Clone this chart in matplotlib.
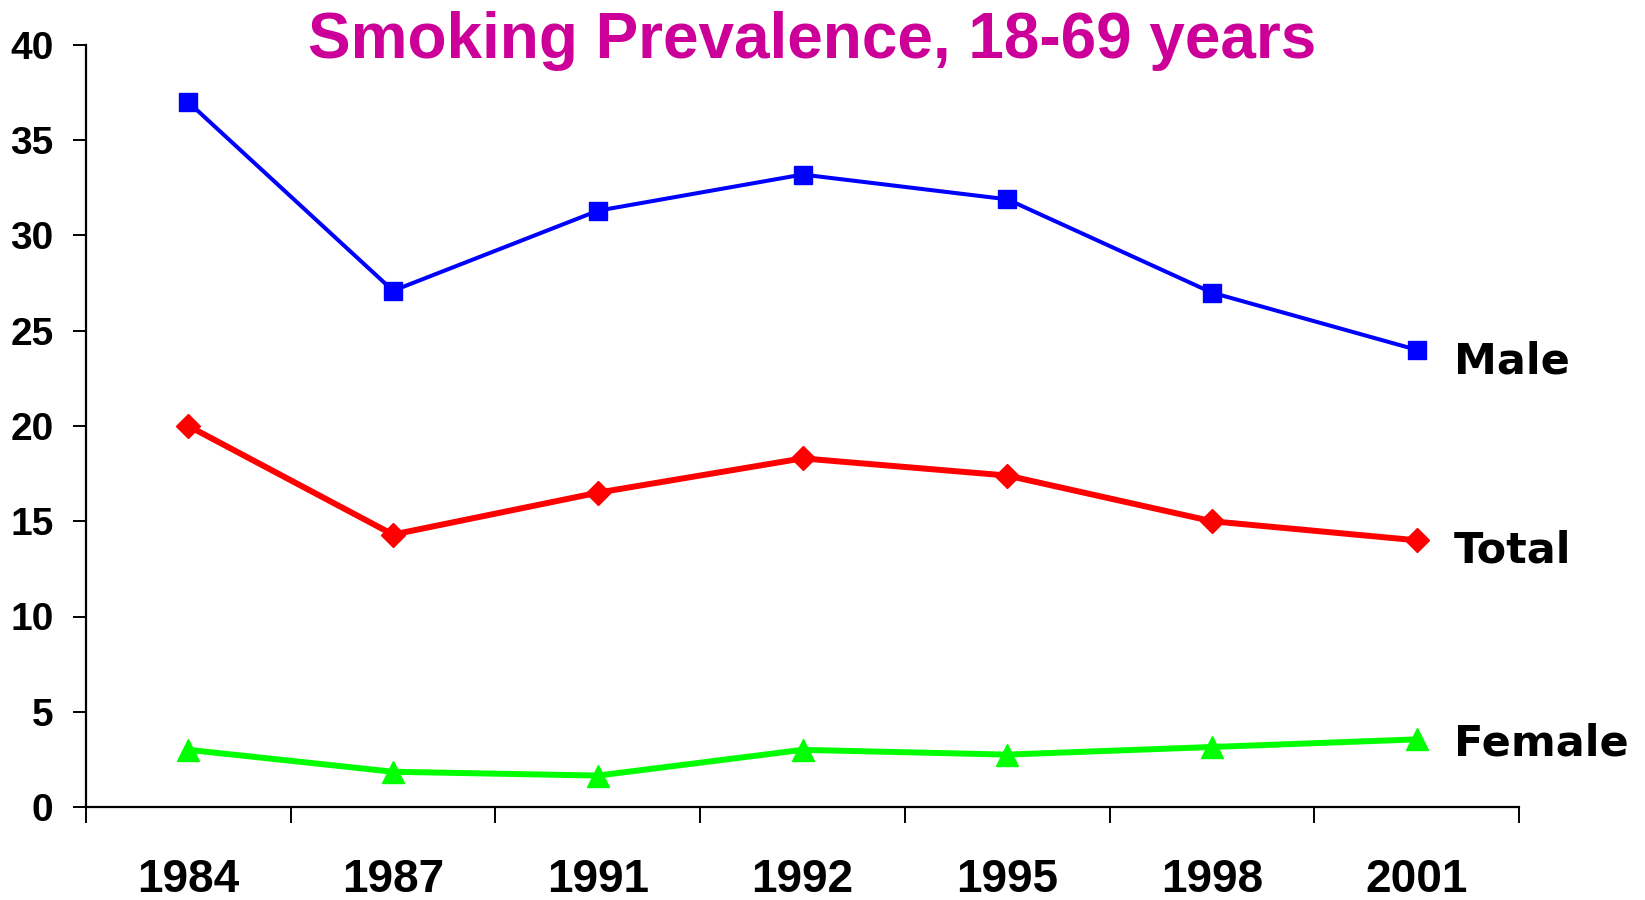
import matplotlib
matplotlib.use("Agg")
import matplotlib.pyplot as plt
from matplotlib.ticker import FixedLocator

years = ["1984", "1987", "1991", "1992", "1995", "1998", "2001"]
male = [37.0, 27.1, 31.3, 33.2, 31.9, 27.0, 24.0]
total = [20.0, 14.3, 16.5, 18.3, 17.4, 15.0, 14.0]
female = [3.0, 1.85, 1.65, 3.0, 2.75, 3.15, 3.55]
yticks = [0, 5, 10, 15, 20, 25, 30, 35, 40]
title = "Smoking Prevalence, 18-69 years"

fig = plt.figure(figsize=(16.45, 9.0), dpi=100)
ax = fig.add_axes([86/1645, 1-807/900, (1519-86)/1645, (807-45)/900])

x = list(range(len(years)))
ax.plot(x, male, color="#0000FF", lw=2.9, marker="s", ms=13.5, mec="#0000FF", zorder=3)
ax.plot(x, total, color="#FF0000", lw=4.3, marker="D", ms=12.5, mec="#FF0000", zorder=3)
ax.plot(x, female, color="#00FF00", lw=4.3, marker="^", ms=16, mec="#00FF00", zorder=3)

ax.set_xlim(-0.5, len(years) - 0.5)
ax.set_ylim(0, 40)
ax.set_yticks(yticks)
ax.set_xticks(x)
ax.set_xticklabels(years)
ax.xaxis.set_minor_locator(FixedLocator([i - 0.5 for i in range(len(years) + 1)]))

for s in ["top", "right"]:
    ax.spines[s].set_visible(False)
for s in ["left", "bottom"]:
    ax.spines[s].set_linewidth(1.6)
    ax.spines[s].set_color("black")

ax.tick_params(axis="y", direction="out", length=9.4, width=1.4, pad=14)
ax.tick_params(axis="x", which="major", length=0, pad=37)
ax.tick_params(axis="x", which="minor", direction="out", length=11.5, width=1.4)

for lab in ax.get_yticklabels():
    lab.set_fontfamily(["Liberation Sans", "DejaVu Sans"])
    lab.set_fontweight("bold")
    lab.set_fontsize(28)
for lab in ax.get_xticklabels():
    lab.set_fontfamily(["Liberation Sans", "DejaVu Sans"])
    lab.set_fontweight("bold")
    lab.set_fontsize(33)

series = [("Male", male, -12), ("Total", total, -10), ("Female", female, -4)]
for name, vals, dy in series:
    ax.annotate(name, xy=(len(years) - 1, vals[-1]), xytext=(37, dy),
                textcoords="offset pixels", ha="left", va="center",
                fontsize=31, fontweight="bold", family=["DejaVu Sans"],
                color="black", annotation_clip=False)

fig.text(812/1645, 1-58/900, title, ha="center", va="baseline",
         fontsize=46, fontweight="bold", color="#CC0099",
         family=["Liberation Sans", "DejaVu Sans"])

fig.savefig("out.png", dpi=100, facecolor="white")
